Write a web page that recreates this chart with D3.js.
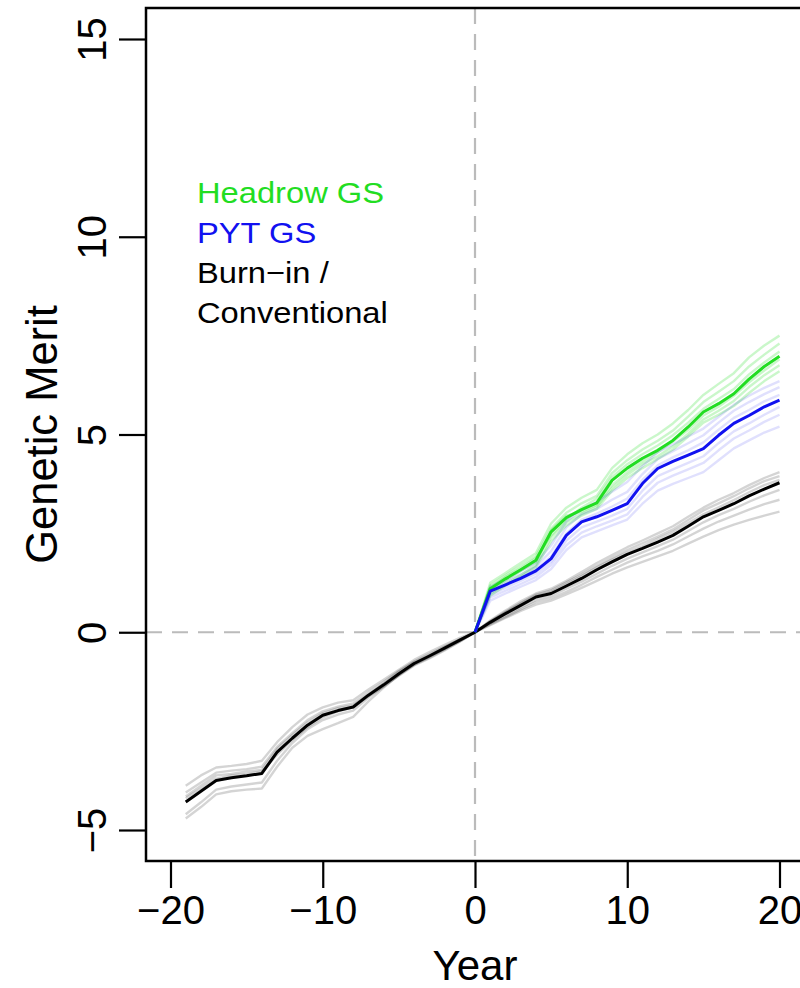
<!DOCTYPE html>
<html>
<head>
<meta charset="utf-8">
<script src="https://cdn.jsdelivr.net/npm/d3@7"></script>
<style>
  html, body { margin: 0; padding: 0; background: #fff; }
  svg { display: block; font-family: "Liberation Sans", Arial, Helvetica, sans-serif; }
</style>
</head>
<body>
<svg id="chart" width="800" height="988"></svg>
<script>
// Years of the burn-in phase and of the breeding-programme phase
const burnYears = d3.range(-19, 1);
const progYears = d3.range(0, 21);

// Mean genetic merit, burn-in (years -19..0)
const burnMean = [-4.29,-4.02,-3.75,-3.68,-3.63,-3.57,-3.03,-2.68,-2.35,-2.10,-1.98,-1.89,-1.59,-1.33,-1.05,-0.79,-0.60,-0.40,-0.20,0];
// Individual burn-in replicates
const burnReps = [
  [-4.71,-4.42,-4.10,-4.02,-3.98,-3.95,-3.40,-2.92,-2.62,-2.45,-2.30,-2.14,-1.75,-1.40,-1.08,-0.82,-0.62,-0.42,-0.22,0],
  [-4.60,-4.30,-3.98,-3.90,-3.85,-3.80,-3.25,-2.80,-2.45,-2.22,-2.08,-1.98,-1.65,-1.36,-1.10,-0.84,-0.66,-0.46,-0.24,0],
  [-3.88,-3.62,-3.42,-3.38,-3.33,-3.25,-2.78,-2.40,-2.08,-1.90,-1.78,-1.72,-1.45,-1.20,-0.95,-0.70,-0.50,-0.32,-0.14,0],
  [-4.05,-3.80,-3.55,-3.50,-3.46,-3.40,-2.90,-2.55,-2.22,-2.00,-1.88,-1.80,-1.52,-1.26,-0.98,-0.74,-0.55,-0.36,-0.18,0],
  [-4.15,-3.88,-3.62,-3.58,-3.52,-3.48,-2.95,-2.60,-2.28,-2.05,-1.92,-1.85,-1.58,-1.30,-1.00,-0.76,-0.58,-0.38,-0.19,0],
  [-4.20,-3.95,-3.70,-3.62,-3.58,-3.52,-3.10,-2.72,-2.40,-2.15,-2.00,-1.90,-1.62,-1.38,-1.08,-0.82,-0.64,-0.44,-0.23,0]
];

// Conventional programme (years 0..20)
const convMean = [0,0.25,0.47,0.68,0.89,0.98,1.17,1.36,1.58,1.78,1.97,2.12,2.28,2.45,2.68,2.92,3.08,3.25,3.45,3.62,3.78];
const convReps = [
  [0,0.30,0.55,0.78,0.98,1.10,1.30,1.52,1.75,1.95,2.15,2.32,2.50,2.68,2.92,3.15,3.35,3.52,3.72,3.90,4.05],
  [0,0.28,0.52,0.74,0.95,1.06,1.26,1.46,1.68,1.88,2.08,2.25,2.42,2.60,2.84,3.08,3.26,3.44,3.64,3.82,3.95],
  [0,0.27,0.50,0.72,0.92,1.02,1.22,1.42,1.64,1.84,2.02,2.18,2.36,2.54,2.76,2.98,3.16,3.34,3.54,3.72,3.85],
  [0,0.22,0.42,0.62,0.82,0.92,1.10,1.28,1.48,1.68,1.86,2.02,2.18,2.34,2.56,2.78,2.96,3.12,3.30,3.46,3.60],
  [0,0.20,0.38,0.58,0.76,0.86,1.02,1.20,1.40,1.58,1.76,1.92,2.06,2.22,2.42,2.62,2.80,2.95,3.10,3.24,3.35],
  [0,0.18,0.36,0.54,0.70,0.80,0.96,1.12,1.30,1.48,1.64,1.78,1.92,2.06,2.24,2.42,2.58,2.72,2.84,2.95,3.05]
];

// Headrow genomic selection (years 0..20)
const headMean = [0,1.10,1.35,1.58,1.82,2.54,2.90,3.10,3.27,3.84,4.15,4.40,4.60,4.85,5.19,5.57,5.78,6.03,6.40,6.72,6.98];
const headReps = [
  [0,1.25,1.50,1.75,2.00,2.75,3.15,3.40,3.60,4.15,4.50,4.78,5.00,5.28,5.62,6.00,6.28,6.55,6.95,7.25,7.50],
  [0,1.18,1.44,1.68,1.92,2.62,3.02,3.26,3.45,4.02,4.35,4.62,4.84,5.10,5.45,5.82,6.08,6.35,6.72,7.02,7.30],
  [0,1.12,1.40,1.62,1.88,2.45,2.85,3.15,3.38,3.92,4.25,4.50,4.72,4.98,5.30,5.65,5.90,6.15,6.52,6.82,7.10],
  [0,1.05,1.30,1.55,1.78,2.58,2.95,3.05,3.22,3.72,4.05,4.32,4.55,4.82,5.12,5.48,5.70,5.98,6.32,6.62,6.90],
  [0,0.98,1.22,1.45,1.70,2.40,2.78,3.00,3.18,3.65,3.98,4.25,4.45,4.70,5.02,5.38,5.60,5.85,6.20,6.50,6.75],
  [0,0.92,1.18,1.40,1.65,2.30,2.70,2.95,3.12,3.58,3.90,4.15,4.38,4.62,4.95,5.30,5.50,5.72,6.05,6.35,6.60]
];

// PYT genomic selection (years 0..20)
const pytMean = [0,1.04,1.20,1.36,1.55,1.86,2.45,2.79,2.92,3.08,3.25,3.76,4.14,4.32,4.48,4.64,4.98,5.28,5.48,5.70,5.87];
const pytReps = [
  [0,1.15,1.35,1.55,1.75,2.20,2.80,3.10,3.30,3.55,3.80,4.20,4.55,4.75,4.95,5.15,5.45,5.75,5.98,6.18,6.35],
  [0,1.10,1.28,1.46,1.66,2.05,2.65,2.98,3.12,3.35,3.55,4.00,4.38,4.58,4.78,4.98,5.30,5.60,5.82,6.02,6.20],
  [0,1.02,1.20,1.38,1.58,1.92,2.50,2.85,3.00,3.18,3.38,3.85,4.22,4.42,4.60,4.80,5.12,5.42,5.62,5.84,6.00],
  [0,0.95,1.12,1.30,1.48,1.78,2.32,2.65,2.80,2.95,3.12,3.58,3.95,4.12,4.28,4.45,4.78,5.08,5.28,5.50,5.70],
  [0,0.88,1.05,1.22,1.40,1.70,2.20,2.52,2.68,2.82,2.98,3.42,3.78,3.96,4.12,4.28,4.60,4.90,5.10,5.32,5.50],
  [0,0.80,0.98,1.15,1.32,1.60,2.08,2.40,2.55,2.70,2.85,3.25,3.58,3.75,3.90,4.05,4.35,4.65,4.85,5.05,5.20]
];

const xTicks = [-20, -10, 0, 10, 20];
const yTicks = [-5, 0, 5, 10, 15];
const legendLabels = ["Headrow GS", "PYT GS", "Burn\u2212in /", "Conventional"];

const GREEN = "#22dd22", BLUE = "#1111f0", BLACK = "#000";

const svg = d3.select("#chart");

const box = { left: 146, top: 8, bottom: 861, right: 860 };
const x = d3.scaleLinear().domain([-20, 20]).range([170.5, 779.5]);
const y = d3.scaleLinear().domain([-5, 15]).range([830, 39]);

svg.append("defs").append("clipPath").attr("id", "plotClip")
  .append("rect")
  .attr("x", box.left).attr("y", box.top)
  .attr("width", box.right - box.left).attr("height", box.bottom - box.top);

const plot = svg.append("g").attr("clip-path", "url(#plotClip)");

// Reference lines at year 0 and merit 0
plot.append("line")
  .attr("x1", box.left).attr("x2", box.right)
  .attr("y1", y(0)).attr("y2", y(0))
  .attr("stroke", "#bbbbbb").attr("stroke-width", 2.2).attr("stroke-dasharray", "16,10");
plot.append("line")
  .attr("x1", x(0)).attr("x2", x(0))
  .attr("y1", box.top).attr("y2", box.bottom)
  .attr("stroke", "#bbbbbb").attr("stroke-width", 2.2).attr("stroke-dasharray", "16,10");

const line = years => d3.line().x((d, i) => x(years[i])).y(d => y(d));

function drawReps(reps, years, color, opacity) {
  plot.append("g").selectAll("path").data(reps).join("path")
    .attr("d", line(years))
    .attr("fill", "none")
    .attr("stroke", color)
    .attr("stroke-opacity", opacity)
    .attr("stroke-width", 2.4)
    .attr("stroke-linejoin", "round");
}
function drawMean(vals, years, color) {
  plot.append("path").datum(vals)
    .attr("d", line(years))
    .attr("fill", "none")
    .attr("stroke", color)
    .attr("stroke-width", 3)
    .attr("stroke-linejoin", "round");
}

drawReps(burnReps, burnYears, BLACK, 0.17);
drawReps(convReps, progYears, BLACK, 0.17);
drawReps(headReps, progYears, GREEN, 0.24);
drawReps(pytReps, progYears, BLUE, 0.13);
drawMean(burnMean, burnYears, BLACK);
drawMean(convMean, progYears, BLACK);
drawMean(headMean, progYears, GREEN);
drawMean(pytMean, progYears, BLUE);

// Plot frame
svg.append("rect")
  .attr("x", box.left).attr("y", box.top)
  .attr("width", box.right - box.left).attr("height", box.bottom - box.top)
  .attr("fill", "none").attr("stroke", "#000").attr("stroke-width", 2.5);

// Axes
const tickLen = 27;
const gx = svg.append("g").attr("transform", `translate(0,${box.bottom})`)
  .call(d3.axisBottom(x).tickValues(xTicks).tickSize(tickLen).tickPadding(8)
    .tickFormat(d => d < 0 ? "\u2212" + Math.abs(d) : d));
gx.select(".domain").remove();
gx.selectAll(".tick line").attr("stroke", "#000").attr("stroke-width", 2.2);
gx.selectAll(".tick text").attr("font-size", 40).attr("fill", "#000")
  .attr("font-family", "Liberation Sans, Arial, sans-serif");

const gy = svg.append("g").attr("transform", `translate(${box.left},0)`)
  .call(d3.axisLeft(y).tickValues(yTicks).tickSize(tickLen)
    .tickFormat(d => d < 0 ? "\u2212" + Math.abs(d) : d));
gy.select(".domain").remove();
gy.selectAll(".tick line").attr("stroke", "#000").attr("stroke-width", 2.2);
gy.selectAll(".tick text")
  .attr("font-size", 40).attr("fill", "#000")
  .attr("font-family", "Liberation Sans, Arial, sans-serif")
  .attr("x", 0)
  .attr("text-anchor", "middle")
  .attr("transform", "translate(-54,0) rotate(-90)")
  .attr("dy", "0.36em");

// Axis titles
svg.append("text")
  .attr("x", 475).attr("y", 980)
  .attr("text-anchor", "middle").attr("font-size", 42)
  .text("Year");
svg.append("text")
  .attr("transform", `translate(57,${(box.top + box.bottom) / 2}) rotate(-90)`)
  .attr("text-anchor", "middle").attr("font-size", 43.5)
  .text("Genetic Merit");

// Legend
const legendColors = [GREEN, BLUE, BLACK, BLACK];
svg.append("g").attr("transform", "translate(197,0) scale(1.09,1)")
  .selectAll("text").data(legendLabels).join("text")
  .attr("x", 0)
  .attr("y", (d, i) => 203 + i * 40)
  .attr("font-size", 30)
  .attr("fill", (d, i) => legendColors[i])
  .text(d => d);
</script>
</body>
</html>
